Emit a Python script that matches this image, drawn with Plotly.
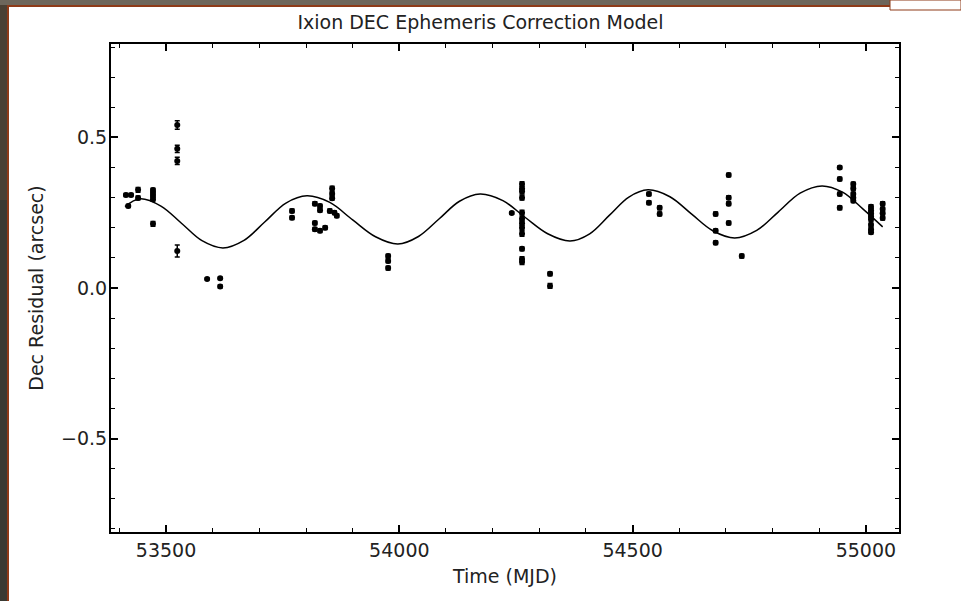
import plotly.graph_objects as go

# ---- observed residuals (MJD, Dec residual arcsec, error) ----
mjd = [53414, 53425, 53419, 53440, 53440,
       53472, 53472, 53472, 53472, 53472,
       53524, 53524, 53524, 53524,
       53588, 53616, 53616,
       53770, 53770,
       53819, 53819, 53819, 53830, 53830, 53830, 53841, 53856, 53856, 53856, 53851, 53861, 53866,
       53976, 53976, 53976,
       54241, 54263, 54263, 54263, 54263, 54263, 54263, 54263, 54263, 54263, 54263, 54263, 54263,
       54323, 54323,
       54535, 54535, 54558, 54558,
       54678, 54678, 54678,
       54706, 54706, 54706, 54706,
       54734,
       54944, 54944, 54944, 54944,
       54973, 54973, 54973, 54973, 54973,
       55011, 55011, 55011, 55011, 55011, 55011, 55011, 55011,
       55036, 55036, 55036, 55036]
dec = [0.309, 0.309, 0.272, 0.326, 0.299,
       0.325, 0.315, 0.305, 0.295, 0.213,
       0.541, 0.462, 0.422, 0.123,
       0.030, 0.032, 0.005,
       0.256, 0.233,
       0.280, 0.216, 0.195, 0.272, 0.258, 0.190, 0.200, 0.330, 0.313, 0.298, 0.256, 0.250, 0.240,
       0.106, 0.090, 0.066,
       0.249, 0.345, 0.330, 0.320, 0.300, 0.250, 0.230, 0.215, 0.200, 0.180, 0.130, 0.096, 0.086,
       0.047, 0.007,
       0.312, 0.283, 0.266, 0.246,
       0.246, 0.190, 0.150,
       0.375, 0.300, 0.280, 0.216,
       0.106,
       0.400, 0.362, 0.312, 0.266,
       0.345, 0.330, 0.312, 0.300, 0.290,
       0.270, 0.258, 0.248, 0.238, 0.228, 0.210, 0.195, 0.185,
       0.280, 0.262, 0.248, 0.232]
err = [0.005, 0.005, 0.005, 0.008, 0.006,
       0.006, 0.006, 0.006, 0.006, 0.008,
       0.014, 0.012, 0.012, 0.020,
       0.003, 0.004, 0.005,
       0.006, 0.006,
       0.006, 0.006, 0.006, 0.006, 0.006, 0.006, 0.006, 0.008, 0.006, 0.006, 0.006, 0.006, 0.006,
       0.006, 0.006, 0.006,
       0.004, 0.008, 0.008, 0.008, 0.008, 0.008, 0.008, 0.008, 0.008, 0.008, 0.006, 0.008, 0.008,
       0.006, 0.008,
       0.006, 0.006, 0.006, 0.006,
       0.006, 0.006, 0.006,
       0.006, 0.006, 0.006, 0.006,
       0.006,
       0.005, 0.006, 0.006, 0.006,
       0.006, 0.006, 0.006, 0.006, 0.006,
       0.006, 0.006, 0.006, 0.006, 0.006, 0.006, 0.006, 0.006,
       0.006, 0.006, 0.006, 0.006]

# ---- model curve ----
model_mjd = [53412, 53444, 53489, 53533, 53577, 53622, 53667, 53712, 53757, 53802, 53851,
             53900, 53949, 53997, 54041, 54085, 54129, 54173, 54222, 54270, 54318, 54366,
             54408, 54450, 54492, 54533, 54580, 54626, 54672, 54719, 54766, 54812, 54859,
             54906, 54950, 54994, 55036]
model_dec = [0.270, 0.296, 0.272, 0.215, 0.157, 0.133, 0.158, 0.220, 0.282, 0.306, 0.284,
             0.226, 0.170, 0.146, 0.171, 0.229, 0.288, 0.312, 0.290, 0.234, 0.180, 0.156,
             0.180, 0.241, 0.302, 0.326, 0.303, 0.246, 0.190, 0.166, 0.191, 0.252, 0.315,
             0.339, 0.318, 0.262, 0.203]

title_text = "Ixion DEC Ephemeris Correction Model"
x_title = "Time (MJD)"
y_title = "Dec Residual (arcsec)"
x_tickvals = [53500, 54000, 54500, 55000]
x_ticktext = ["53500", "54000", "54500", "55000"]
y_tickvals = [-0.5, 0.0, 0.5]
y_ticktext = ["\u22120.5", "0.0", "0.5"]

fig = go.Figure()
fig.add_trace(go.Scatter(
    x=model_mjd, y=model_dec, mode="lines",
    line=dict(color="black", width=1.5, shape="spline", smoothing=1.0),
    showlegend=False, hoverinfo="skip"))
fig.add_trace(go.Scatter(
    x=mjd, y=dec, mode="markers",
    marker=dict(color="black", size=6),
    error_y=dict(type="data", array=err, visible=True, color="black", thickness=1.5, width=2.5),
    showlegend=False))

W, H = 961, 601
L, R, T, B = 111, 62, 44, 69
pw, ph = W - L - R, H - T - B
def px(x):
    return (x - L) / pw
def py(y):
    return (H - B - y) / ph

shapes = [
    dict(type="rect", xref="paper", yref="paper", x0=px(0), x1=px(7), y0=py(601), y1=py(0),
         fillcolor="#3a3a33", line=dict(width=0), layer="below"),
    dict(type="rect", xref="paper", yref="paper", x0=px(0), x1=px(7), y0=py(200), y1=py(0),
         fillcolor="#4a4034", line=dict(width=0), layer="below"),
    dict(type="rect", xref="paper", yref="paper", x0=px(7), x1=px(9), y0=py(601), y1=py(6),
         fillcolor="#8e3a18", line=dict(width=0), layer="below"),
    dict(type="rect", xref="paper", yref="paper", x0=px(0), x1=px(890), y0=py(5), y1=py(0),
         fillcolor="#6d665b", line=dict(width=0), layer="below"),
    dict(type="rect", xref="paper", yref="paper", x0=px(7), x1=px(890), y0=py(7), y1=py(5),
         fillcolor="#8e3a18", line=dict(width=0), layer="below"),
    dict(type="rect", xref="paper", yref="paper", x0=px(890), x1=px(961), y0=py(10), y1=py(0),
         fillcolor="#ffffff", line=dict(color="#8e3a18", width=1), layer="below"),
]

FONT = "DejaVu Sans, Verdana, sans-serif"
fig.update_layout(
    width=W, height=H,
    margin=dict(l=L, r=R, t=T, b=B),
    paper_bgcolor="white", plot_bgcolor="white",
    font=dict(family=FONT, color="#222222", size=19),
    title=dict(text=title_text, x=px(505), xanchor="center", y=1 - 22 / H, yanchor="middle",
               font=dict(size=19, color="#222222")),
    shapes=shapes,
    xaxis=dict(
        range=[53382, 55071], tickvals=x_tickvals, ticktext=x_ticktext,
        ticks="inside", ticklen=7, tickwidth=1.5, tickcolor="black",
        minor=dict(ticks="inside", dtick=100, tick0=53400, ticklen=4, tickwidth=1.2, tickcolor="black"),
        showline=True, linecolor="black", linewidth=2, mirror="allticks",
        showgrid=False, zeroline=False,
        title=dict(text=x_title, standoff=10, font=dict(size=19)),
        tickfont=dict(size=19)),
    yaxis=dict(
        range=[-0.81, 0.81], tickvals=y_tickvals, ticktext=y_ticktext,
        ticks="inside", ticklen=7, tickwidth=1.5, tickcolor="black",
        minor=dict(ticks="inside", dtick=0.1, tick0=0, ticklen=4, tickwidth=1.2, tickcolor="black"),
        showline=True, linecolor="black", linewidth=2, mirror="allticks",
        showgrid=False, zeroline=False, ticklabelstandoff=-2,
        title=dict(text=y_title, standoff=12, font=dict(size=19)),
        tickfont=dict(size=19)),
)

fig.write_html("out.html", config={"displayModeBar": False},
               post_script="document.body.style.margin='0px';")
